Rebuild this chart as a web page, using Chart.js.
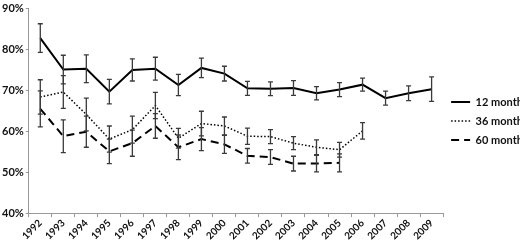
<!DOCTYPE html>
<html>
<head>
<meta charset="utf-8">
<script src="https://cdn.jsdelivr.net/npm/chart.js@4.4.1/dist/chart.umd.min.js"></script>
<style>
  html, body { margin: 0; padding: 0; background: #fff; overflow: hidden; }
  #clip { width: 520px; height: 244px; overflow: hidden; }
  #wrap { width: 533px; height: 244px; position: relative; }
</style>
</head>
<body>
<div id="clip"><div id="wrap"><canvas id="survChart"></canvas></div></div>
<script>
// Survival by year of diagnosis, with error bars
const years = ['1992','1993','1994','1995','1996','1997','1998','1999','2000','2001','2002','2003','2004','2005','2006','2007','2008','2009'];

const m12 = [82.8, 75.1, 75.3, 69.7, 75.0, 75.3, 71.3, 75.5, 74.1, 70.5, 70.4, 70.6, 69.3, 70.2, 71.4, 68.1, 69.3, 70.3];
const m12Err = [3.5, 3.5, 3.4, 3.0, 2.7, 2.8, 2.6, 2.4, 1.8, 1.7, 1.7, 1.8, 1.6, 1.7, 1.6, 1.7, 1.8, 3.0];

const m36 = [68.4, 69.6, 64.1, 58.1, 60.4, 66.3, 58.3, 61.9, 61.3, 58.8, 58.7, 57.1, 56.1, 55.5, 60.1, null, null, null];
const m36Err = [4.2, 4.0, 4.0, 3.2, 3.3, 3.2, 2.4, 3.0, 2.2, 2.0, 1.7, 1.6, 1.8, 1.8, 2.0, null, null, null];

const m60 = [65.5, 58.8, 59.9, 55.1, 57.1, 61.3, 56.1, 58.1, 56.8, 54.0, 53.7, 52.1, 52.1, 52.3, null, null, null, null];
const m60Err = [4.4, 4.0, 3.8, 3.0, 3.2, 3.0, 3.0, 2.8, 2.2, 1.8, 1.8, 1.8, 2.0, 2.2, null, null, null, null];

const yTicks = [40, 50, 60, 70, 80, 90];

const errors = [m12Err, m36Err, m60Err];

// draws vertical error bars with caps, using the chart's own scales
const errorBars = {
  id: 'errorBars',
  afterDatasetsDraw(chart) {
    const ctx = chart.ctx;
    const y = chart.scales.y;
    ctx.save();
    ctx.strokeStyle = '#3a3a3a';
    ctx.lineWidth = 1.3;
    ctx.setLineDash([]);
    chart.data.datasets.forEach((ds, i) => {
      const meta = chart.getDatasetMeta(i);
      const err = errors[i];
      ds.data.forEach((v, j) => {
        if (v == null || err[j] == null) return;
        const px = meta.data[j].x;
        const top = y.getPixelForValue(v + err[j]);
        const bot = y.getPixelForValue(v - err[j]);
        ctx.beginPath();
        ctx.moveTo(px, top); ctx.lineTo(px, bot);
        ctx.moveTo(px - 2.5, top); ctx.lineTo(px + 2.5, top);
        ctx.moveTo(px - 2.5, bot); ctx.lineTo(px + 2.5, bot);
        ctx.stroke();
      });
    });
    ctx.restore();
  }
};

const font = { family: 'Lato', weight: 'bold', size: 11 };

new Chart(document.getElementById('survChart'), {
  type: 'line',
  data: {
    labels: years,
    datasets: [
      { label: '12 month', data: m12, borderColor: '#000', borderWidth: 2, pointRadius: 0, tension: 0 },
      { label: '36 month', data: m36, borderColor: '#000', borderWidth: 1.5, borderDash: [1.5, 2], pointRadius: 0, tension: 0 },
      { label: '60 month', data: m60, borderColor: '#000', borderWidth: 2, borderDash: [8, 5], pointRadius: 0, tension: 0 }
    ]
  },
  options: {
    responsive: true, maintainAspectRatio: false, animation: false,
    layout: { padding: { top: 0, right: 0, bottom: 2, left: 0 } },
    plugins: {
      legend: {
        position: 'right',
        labels: {
          usePointStyle: true, pointStyle: 'line', pointStyleWidth: 19, boxHeight: 2, padding: 8, color: '#111', font: font,
          generateLabels: (chart) => Chart.defaults.plugins.legend.labels.generateLabels(chart).map(item => {
            const ds = chart.data.datasets[item.datasetIndex];
            item.lineDash = ds.borderDash || [];
            item.lineWidth = ds.borderWidth;
            item.strokeStyle = '#000';
            return item;
          })
        }
      },
      tooltip: { enabled: false }
    },
    scales: {
      x: {
        offset: true,
        grid: { display: true, drawOnChartArea: false, offset: true, tickLength: 4, color: '#999' },
        border: { color: '#999', width: 1 },
        ticks: { color: '#111', font: { family: 'Lato', weight: 'bold', size: 10 }, minRotation: 45, maxRotation: 45, autoSkip: false, padding: 0 }
      },
      y: {
        min: 40, max: 90,
        afterBuildTicks: (axis) => { axis.ticks = yTicks.map(v => ({ value: v })); },
        grid: { display: true, drawOnChartArea: false, tickLength: 3, color: '#999' },
        border: { color: '#999', width: 1 },
        ticks: { color: '#111', font: font, padding: 2, callback: v => v + '%' }
      }
    }
  },
  plugins: [errorBars]
});
</script>
</body>
</html>
